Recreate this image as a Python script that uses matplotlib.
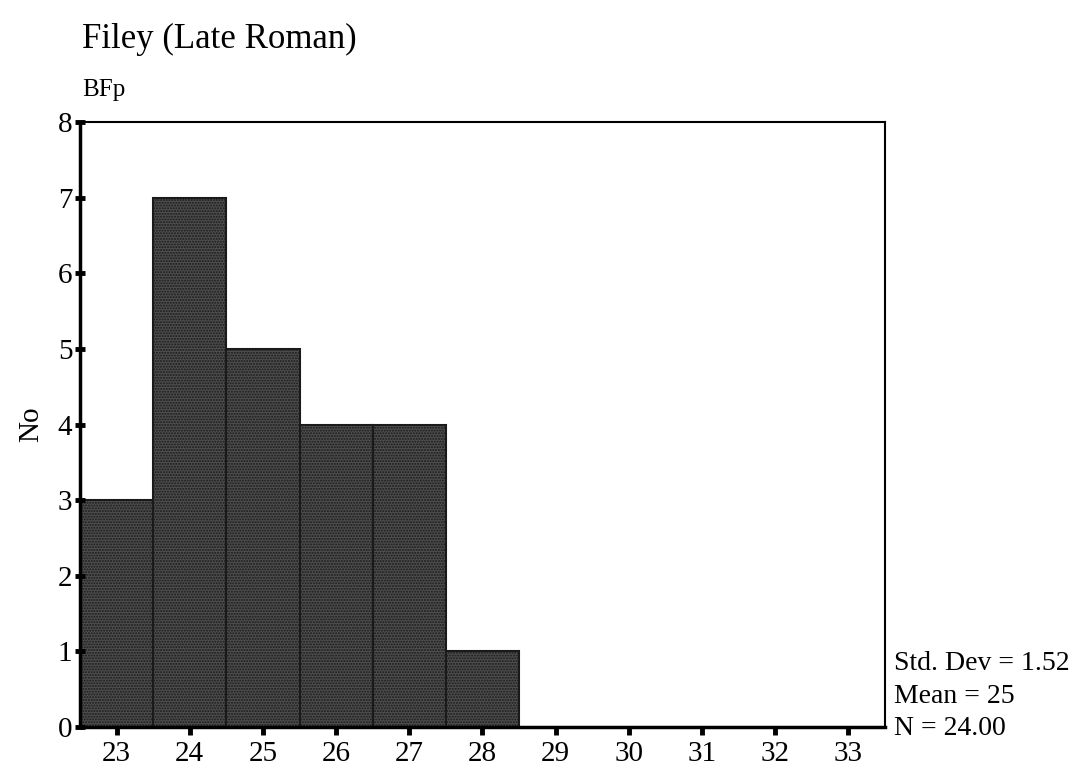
import matplotlib.pyplot as plt

plt.rcParams["font.family"] = ["Liberation Serif", "DejaVu Serif"]
plt.rcParams["hatch.color"] = "#9a9a9a"
plt.rcParams["hatch.linewidth"] = 1.0

bins = [23, 24, 25, 26, 27, 28]
counts = [3, 7, 5, 4, 4, 1]
xticks = list(range(23, 34))
yticks = list(range(0, 9))
stats = ["Std. Dev = 1.52", "Mean = 25", "N = 24.00"]

fig = plt.figure(figsize=(10.85, 7.75), dpi=100)
ax = fig.add_axes([0.0737, 0.0619, 0.742, 0.7807])

# stippled grey bars, one per bin
ax.bar(bins, counts, width=1.0, align="center", color="#4e4e4e",
       edgecolor="#1a1a1a", linewidth=1.5, hatch="......")

ax.set_xlim(22.5, 33.5)
ax.set_ylim(0, 8)
ax.set_xticks(xticks)
ax.set_yticks(yticks)
ax.tick_params(axis="x", direction="out", length=6, width=3.5, labelsize=21, pad=4)
ax.tick_params(axis="y", direction="inout", length=7, width=3.5, labelsize=21, pad=2)
for s in ax.spines.values():
    s.set_linewidth(1.5)
ax.spines["left"].set_linewidth(2.5)
ax.spines["bottom"].set_linewidth(2.5)

ax.set_ylabel("No", fontsize=21, labelpad=10)

fig.text(0.0756, 0.938, "Filey (Late Roman)", fontsize=25, ha="left", va="baseline")
fig.text(0.0756, 0.876, "BFp", fontsize=18, ha="left", va="baseline")

for i, line in enumerate(stats):
    fig.text(0.824, 0.136 - i * 0.0425, line, fontsize=20, ha="left", va="baseline")

fig.savefig("out.png", dpi=100)
